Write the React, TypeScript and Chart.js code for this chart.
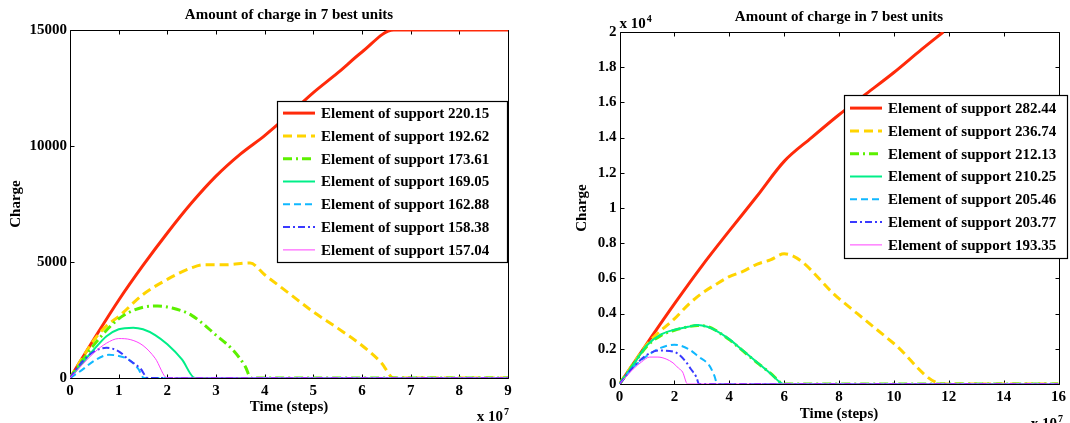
import React, { useEffect, useRef } from "react";
import { Chart, registerables } from "chart.js";

Chart.register(...registerables);

const FONT = "'Liberation Serif', 'Times New Roman', Times, serif";

// ---------------- Data (time in units of 1e7 steps, charge in units) ----------------
const chartTitle = "Amount of charge in 7 best units";
const xAxisTitle = "Time (steps)";
const yAxisTitle = "Charge";

// Left panel
const leftNames = [
  "Element of support 220.15",
  "Element of support 192.62",
  "Element of support 173.61",
  "Element of support 169.05",
  "Element of support 162.88",
  "Element of support 158.38",
  "Element of support 157.04",
];
const leftXTicks = [0, 1, 2, 3, 4, 5, 6, 7, 8, 9];
const leftYTicks = [0, 5000, 10000, 15000];

const leftT1 = [0, 0.5, 1, 1.5, 2, 2.5, 3, 3.5, 4, 4.5, 5, 5.5, 6, 6.65, 9];
const leftC1 = [0, 1700, 3350, 4850, 6250, 7550, 8700, 9650, 10450, 11350, 12300, 13150, 14050, 15000, 15000];
const leftT2 = [0, 0.5, 0.75, 1, 1.5, 2, 2.5, 2.75, 3.2, 3.7, 4, 4.5, 5, 5.5, 6, 6.4, 6.65, 9];
const leftC2 = [0, 1650, 2250, 2650, 3600, 4250, 4750, 4880, 4880, 4960, 4450, 3650, 2850, 2150, 1400, 650, 0, 0];
const leftT3 = [0, 0.5, 1, 1.5, 1.8, 2.1, 2.5, 3, 3.35, 3.6, 3.72, 9];
const leftC3 = [0, 1450, 2550, 3050, 3100, 3020, 2700, 1850, 1200, 500, 0, 0];
const leftT4 = [0, 0.5, 0.75, 1, 1.3, 1.5, 1.75, 2, 2.3, 2.57, 9];
const leftC4 = [0, 1250, 1800, 2100, 2170, 2100, 1850, 1450, 800, 0, 0];
const leftT5 = [0, 0.25, 0.5, 0.8, 1, 1.2, 1.4, 1.52, 9];
const leftC5 = [0, 350, 750, 1000, 950, 800, 400, 0, 0];
const leftT6 = [0, 0.25, 0.5, 0.75, 1, 1.2, 1.45, 1.6, 9];
const leftC6 = [0, 700, 1150, 1300, 1150, 800, 400, 0, 0];
const leftT7 = [0, 0.5, 0.75, 1, 1.25, 1.5, 1.75, 2, 9];
const leftC7 = [0, 1100, 1500, 1700, 1650, 1400, 850, 0, 0];

// Right panel
const rightNames = [
  "Element of support 282.44",
  "Element of support 236.74",
  "Element of support 212.13",
  "Element of support 210.25",
  "Element of support 205.46",
  "Element of support 203.77",
  "Element of support 193.35",
];
const rightXTicks = [0, 2, 4, 6, 8, 10, 12, 14, 16];
const rightYTicks = [0, 2000, 4000, 6000, 8000, 10000, 12000, 14000, 16000, 18000, 20000];

const rightT1 = [0, 1, 2, 3, 4, 5, 6, 7, 8, 9, 10, 11, 11.8];
const rightC1 = [0, 2300, 4550, 6700, 8700, 10650, 12650, 14000, 15300, 16500, 17700, 19000, 20000];
const rightT2 = [0, 0.5, 1, 1.2, 2, 2.5, 3, 3.5, 4, 4.5, 5, 5.5, 6, 8, 10, 11.8, 16];
const rightC2 = [0, 1150, 2250, 2600, 3700, 4500, 5150, 5650, 6100, 6400, 6800, 7050, 7400, 4850, 2300, 0, 0];
const rightT3 = [0, 0.5, 1, 1.5, 2, 2.5, 2.85, 3.2, 3.5, 4, 4.5, 5, 5.5, 6, 16];
const rightC3 = [0, 1100, 2150, 2750, 3050, 3250, 3330, 3270, 3050, 2520, 1880, 1230, 620, 0, 0];
const rightT4 = [0, 0.5, 1, 1.5, 2, 2.5, 2.85, 3.2, 3.5, 4, 4.5, 5, 5.5, 6, 16];
const rightC4 = [0, 1100, 2200, 2800, 3080, 3250, 3350, 3250, 3050, 2550, 1900, 1250, 600, 0, 0];
const rightT5 = [0, 0.5, 1, 1.5, 2, 2.5, 2.9, 3.27, 3.45, 3.57, 16];
const rightC5 = [0, 950, 1600, 2050, 2230, 2000, 1530, 1060, 500, 0, 0];
const rightT6 = [0, 0.5, 1, 1.45, 2, 2.4, 2.6, 2.8, 2.9, 16];
const rightC6 = [0, 950, 1650, 1900, 1820, 1300, 850, 400, 0, 0];
const rightT7 = [0, 0.5, 0.8, 1.1, 1.4, 1.7, 1.95, 2.15, 2.3, 2.48, 16];
const rightC7 = [0, 850, 1250, 1530, 1530, 1420, 1200, 900, 680, 0, 0];

// ---------------- Styles ----------------
const seriesColors = ["#ff2a0a", "#ffd400", "#5cf000", "#00ee88", "#10b8ff", "#3a3aff", "#ff40ff"];
const seriesWidths = [3, 3, 3, 2, 2, 2, 1];
const seriesDashes: number[][] = [[], [9, 5], [9, 4, 2, 4], [], [7, 4], [7, 3, 2, 3], []];

function buildDatasets(names: string[], ts: number[][], cs: number[][]) {
  return names.map((name, i) => ({
    label: name,
    data: ts[i].map((t, j) => ({ x: t, y: cs[i][j] })),
    borderColor: seriesColors[i],
    backgroundColor: seriesColors[i],
    borderWidth: seriesWidths[i],
    borderDash: seriesDashes[i],
    pointRadius: 0,
    fill: false,
    cubicInterpolationMode: "monotone" as const,
    order: names.length - 1 - i,
  }));
}

type Layout = {
  width: number;
  yAxisWidth: number;
  xAxisHeight: number;
  padRight: number;
  titlePadTop: number;
  titlePadBottom: number;
  yTitlePad: number;
  xTitlePadBottom: number;
  legend: { left: number; top: number; width: number; height: number; rowH: number };
  expX?: { text: string; sup: string; right: number; baseline: number };
  expY?: { text: string; sup: string; left: number; baseline: number };
};

function makePlugins(L: Layout) {
  const boxPlugin = {
    id: "matlabBox",
    beforeDatasetsDraw(chart: any) {
      const { ctx, chartArea: a, scales } = chart;
      ctx.save();
      ctx.strokeStyle = "#000";
      ctx.lineWidth = 1;
      const l = Math.round(a.left) + 0.5;
      const t = Math.round(a.top) + 0.5;
      const r = Math.round(a.right) + 0.5;
      const b = Math.round(a.bottom) + 0.5;
      ctx.beginPath();
      ctx.rect(l, t, r - l, b - t);
      const TL = 4;
      scales.x.ticks.forEach((tk: any) => {
        const px = Math.round(scales.x.getPixelForValue(tk.value)) + 0.5;
        ctx.moveTo(px, b);
        ctx.lineTo(px, b - TL);
        ctx.moveTo(px, t);
        ctx.lineTo(px, t + TL);
      });
      scales.y.ticks.forEach((tk: any) => {
        const py = Math.round(scales.y.getPixelForValue(tk.value)) + 0.5;
        ctx.moveTo(l, py);
        ctx.lineTo(l + TL, py);
        ctx.moveTo(r, py);
        ctx.lineTo(r - TL, py);
      });
      ctx.stroke();
      ctx.restore();
    },
  };

  const legendPlugin = {
    id: "boxLegend",
    afterDatasetsDraw(chart: any) {
      const { ctx } = chart;
      const g = L.legend;
      ctx.save();
      ctx.fillStyle = "#fff";
      ctx.fillRect(g.left, g.top, g.width, g.height);
      ctx.strokeStyle = "#000";
      ctx.lineWidth = 1.2;
      ctx.setLineDash([]);
      ctx.strokeRect(g.left + 0.5, g.top + 0.5, g.width, g.height);
      const ds = chart.data.datasets;
      const cy = g.top + g.height / 2;
      ds.forEach((d: any, i: number) => {
        const y = cy + (i - (ds.length - 1) / 2) * g.rowH;
        ctx.beginPath();
        ctx.strokeStyle = d.borderColor;
        ctx.lineWidth = d.borderWidth;
        ctx.setLineDash(d.borderDash || []);
        ctx.moveTo(g.left + 6, y);
        ctx.lineTo(g.left + 38, y);
        ctx.stroke();
        ctx.setLineDash([]);
        ctx.fillStyle = "#000";
        ctx.font = `bold 15px ${FONT}`;
        ctx.textAlign = "left";
        ctx.textBaseline = "middle";
        ctx.fillText(d.label, g.left + 44, y + 1);
      });
      ctx.restore();
    },
  };

  const expPlugin = {
    id: "expLabels",
    afterDraw(chart: any) {
      const { ctx } = chart;
      ctx.save();
      ctx.fillStyle = "#000";
      ctx.textBaseline = "alphabetic";
      ctx.textAlign = "left";
      const big = `bold 15px ${FONT}`;
      const small = `bold 10px ${FONT}`;
      if (L.expX) {
        const e = L.expX;
        ctx.font = big;
        const w1 = ctx.measureText(e.text).width;
        ctx.font = small;
        const w2 = ctx.measureText(e.sup).width;
        const x0 = e.right - w1 - w2 - 1;
        ctx.font = big;
        ctx.fillText(e.text, x0, e.baseline);
        ctx.font = small;
        ctx.fillText(e.sup, x0 + w1 + 1, e.baseline - 6);
      }
      if (L.expY) {
        const e = L.expY;
        ctx.font = big;
        const w1 = ctx.measureText(e.text).width;
        ctx.fillText(e.text, e.left, e.baseline);
        ctx.font = small;
        ctx.fillText(e.sup, e.left + w1 + 1, e.baseline - 6);
      }
      ctx.restore();
    },
  };
  return [boxPlugin, legendPlugin, expPlugin];
}

function makeConfig(
  datasets: any[],
  xTicks: number[],
  yTicks: number[],
  yFormat: (v: number) => string,
  L: Layout
) {
  const tickFont = { family: FONT, size: 15, weight: "bold" as const };
  return {
    type: "line" as const,
    data: { datasets },
    options: {
      animation: false as const,
      responsive: false,
      devicePixelRatio: 1,
      layout: { padding: { left: 0, right: L.padRight, top: 0, bottom: 0 } },
      plugins: {
        legend: { display: false },
        tooltip: { enabled: false },
        title: {
          display: true,
          text: chartTitle,
          fullSize: false,
          color: "#000",
          font: { family: FONT, size: 15, weight: "bold" as const, lineHeight: 1.2 },
          padding: { top: L.titlePadTop, bottom: L.titlePadBottom },
        },
      },
      scales: {
        x: {
          type: "linear" as const,
          min: xTicks[0],
          max: xTicks[xTicks.length - 1],
          afterBuildTicks: (s: any) => {
            s.ticks = xTicks.map((v) => ({ value: v }));
          },
          afterFit: (s: any) => {
            s.height = L.xAxisHeight;
          },
          grid: { display: false, drawTicks: false },
          border: { display: false },
          ticks: {
            color: "#000",
            font: tickFont,
            padding: 4,
            maxRotation: 0,
            autoSkip: false,
            callback: (v: any) => String(v),
          },
          title: {
            display: true,
            text: xAxisTitle,
            color: "#000",
            font: { family: FONT, size: 15, weight: "bold" as const, lineHeight: 1.2 },
            padding: { top: 0, bottom: L.xTitlePadBottom },
          },
        },
        y: {
          type: "linear" as const,
          min: yTicks[0],
          max: yTicks[yTicks.length - 1],
          afterBuildTicks: (s: any) => {
            s.ticks = yTicks.map((v) => ({ value: v }));
          },
          afterFit: (s: any) => {
            s.width = L.yAxisWidth;
          },
          grid: { display: false, drawTicks: false },
          border: { display: false },
          ticks: {
            color: "#000",
            font: tickFont,
            padding: 3,
            autoSkip: false,
            callback: (v: any) => yFormat(Number(v)),
          },
          title: {
            display: true,
            text: yAxisTitle,
            color: "#000",
            font: { family: FONT, size: 15, weight: "bold" as const, lineHeight: 1.2 },
            padding: { top: L.yTitlePad, bottom: 0 },
          },
        },
      },
    },
    plugins: makePlugins(L),
  };
}

const leftLayout: Layout = {
  width: 540,
  yAxisWidth: 70,
  xAxisHeight: 45,
  padRight: 32,
  titlePadTop: 6,
  titlePadBottom: 6,
  yTitlePad: 7.5,
  xTitlePadBottom: 7,
  legend: { left: 277, top: 101, width: 230, height: 161, rowH: 22.8 },
  expX: { text: "x 10", sup: "7", right: 509, baseline: 421 },
};

const rightLayout: Layout = {
  width: 530,
  yAxisWidth: 79.5,
  xAxisHeight: 39,
  padRight: 9,
  titlePadTop: 8,
  titlePadBottom: 6,
  yTitlePad: 33,
  xTitlePadBottom: 0,
  legend: { left: 304, top: 95, width: 223, height: 163, rowH: 22.8 },
  expX: { text: "x 10", sup: "7", right: 523, baseline: 428 },
  expY: { text: "x 10", sup: "4", left: 79.5, baseline: 28 },
};

function Panel({ config, left, width }: { config: any; left: number; width: number }) {
  const ref = useRef<HTMLCanvasElement>(null);
  useEffect(() => {
    const chart = new Chart(ref.current as HTMLCanvasElement, config);
    return () => chart.destroy();
  }, [config]);
  return (
    <canvas
      ref={ref}
      width={width}
      height={423}
      style={{ position: "absolute", left, top: 0, width, height: 423, display: "block" }}
    />
  );
}

const leftConfig = makeConfig(
  buildDatasets(
    leftNames,
    [leftT1, leftT2, leftT3, leftT4, leftT5, leftT6, leftT7],
    [leftC1, leftC2, leftC3, leftC4, leftC5, leftC6, leftC7]
  ),
  leftXTicks,
  leftYTicks,
  (v) => String(v),
  leftLayout
);

const rightConfig = makeConfig(
  buildDatasets(
    rightNames,
    [rightT1, rightT2, rightT3, rightT4, rightT5, rightT6, rightT7],
    [rightC1, rightC2, rightC3, rightC4, rightC5, rightC6, rightC7]
  ),
  rightXTicks,
  rightYTicks,
  (v) => String(Number((v / 10000).toFixed(1))),
  rightLayout
);

export default function App() {
  return (
    <div
      style={{
        position: "fixed",
        left: 0,
        top: 0,
        width: 1070,
        height: 423,
        background: "#fff",
        overflow: "hidden",
      }}
    >
      <Panel config={leftConfig} left={0} width={540} />
      <Panel config={rightConfig} left={540} width={530} />
    </div>
  );
}
